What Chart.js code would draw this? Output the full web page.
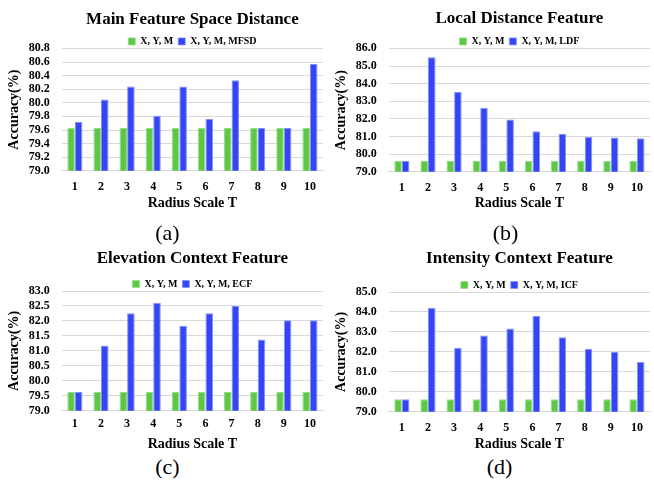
<!DOCTYPE html>
<html>
<head>
<meta charset="utf-8">
<script src="https://cdn.jsdelivr.net/npm/chart.js@4.4.0/dist/chart.umd.min.js"></script>
<style>
body{margin:0;background:#fff;width:654px;height:483px;position:relative;overflow:hidden;font-family:"Liberation Serif",serif;}
.cell{position:absolute;width:327px;height:213px;}
.cap{position:absolute;width:327px;text-align:center;font-size:22px;color:#000;}
</style>
</head>
<body>
<div class="cell" style="left:0;top:0"><canvas id="ca" width="327" height="212"></canvas></div>
<div class="cell" style="left:327px;top:0"><canvas id="cb" width="327" height="212"></canvas></div>
<div class="cell" style="left:0;top:240px"><canvas id="cc" width="327" height="213"></canvas></div>
<div class="cell" style="left:327px;top:240px"><canvas id="cd" width="327" height="213"></canvas></div>
<div class="cap" style="left:4px;top:220px">(a)</div>
<div class="cap" style="left:342px;top:220px">(b)</div>
<div class="cap" style="left:4px;top:454px">(c)</div>
<div class="cap" style="left:336px;top:454px">(d)</div>
<script>
var radius=["1","2","3","4","5","6","7","8","9","10"];
var baseXYM=[79.63,79.63,79.63,79.63,79.63,79.63,79.63,79.63,79.63,79.63];
var mfsd=[79.72,80.05,80.24,79.81,80.24,79.76,80.33,79.63,79.63,80.57];
var ldf=[79.63,85.5,83.52,82.62,81.97,81.3,81.16,80.99,80.95,80.9];
var ecf=[79.63,81.18,82.26,82.6,81.84,82.26,82.5,81.38,82.02,82.02];
var icf=[79.63,84.2,82.21,82.82,83.17,83.8,82.73,82.16,81.99,81.5];

var fam='"Liberation Serif", "Times New Roman", serif';

// p: [title pad top, title pad bottom, x tick pad, x title pad top]
function makeChart(id,title,label2,vals,ymin,ymax,step,p){
  var ctx=document.getElementById(id);
  new Chart(ctx,{
    type:"bar",
    data:{
      labels:radius,
      datasets:[
        {label:"X, Y, M\u00a0\u00a0",data:baseXYM,backgroundColor:"#5cc846",borderColor:"#94dd84",borderWidth:{left:1,right:1,top:1,bottom:0},categoryPercentage:0.58,barPercentage:1},
        {label:label2,data:vals,backgroundColor:"#3545f4",borderColor:"#8591ff",borderWidth:{left:1,right:1,top:1,bottom:0},categoryPercentage:0.58,barPercentage:1}
      ]
    },
    options:{
      responsive:false,
      animation:false,
      layout:{padding:{left:6,right:4,top:0,bottom:0}},
      plugins:{
        title:{display:true,fullSize:false,text:title,color:"#000",font:{family:fam,size:17,weight:"bold"},padding:{top:p[0],bottom:p[1]}},
        legend:{fullSize:false,maxHeight:12,labels:{boxWidth:7,boxHeight:7,color:"#000",font:{family:fam,size:10,weight:"bold"},padding:0},padding:0},
        tooltip:{enabled:false}
      },
      scales:{
        x:{grid:{display:false,drawTicks:false},border:{color:"#d9d9d9"},
           ticks:{color:"#000",font:{family:fam,size:12,weight:"bold"},padding:p[2],autoSkip:false,maxRotation:0},
           title:{display:true,text:"Radius Scale T",color:"#000",font:{family:fam,size:14,weight:"bold"},padding:{top:p[3],bottom:0}}},
        y:{min:ymin,max:ymax,grid:{color:"#d9d9d9",drawTicks:false},border:{display:false},
           ticks:{stepSize:step,autoSkip:false,color:"#000",font:{family:fam,size:12,weight:"bold"},padding:12,
             callback:function(v){return Number(v).toFixed(1);}},
           title:{display:true,text:"Accuracy(%)",color:"#000",font:{family:fam,size:14,weight:"bold"},padding:{top:0,bottom:-6}}}
      }
    }
  });
}

makeChart("ca","Main Feature Space Distance","X, Y, M, MFSD",mfsd,79.0,80.8,0.2,[9,7,9,-8]);
makeChart("cb","Local Distance Feature","X, Y, M, LDF",ldf,79.0,86.0,1.0,[8,8,9,-9]);
makeChart("cc","Elevation Context Feature","X, Y, M, ECF",ecf,79.0,83.0,0.5,[8,10.6,6,-1]);
makeChart("cd","Intensity Context Feature","X, Y, M, ICF",icf,79.0,85.0,1.0,[8,11.6,9,-8]);
</script>
</body>
</html>
